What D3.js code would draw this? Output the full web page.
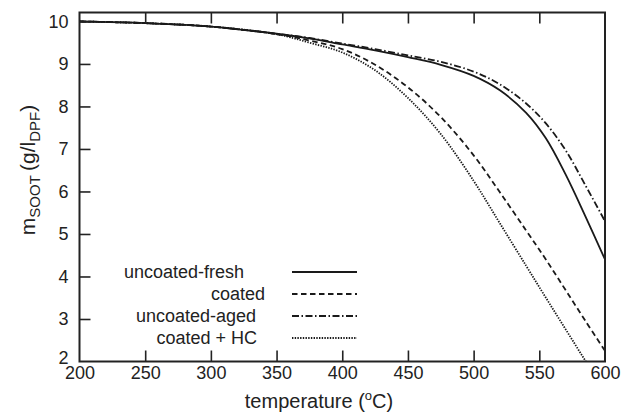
<!DOCTYPE html>
<html>
<head>
<meta charset="utf-8">
<script src="https://cdn.jsdelivr.net/npm/d3@7"></script>
<style>
  html, body { margin: 0; padding: 0; background: #fff; }
  svg text { font-family: "Liberation Sans", Arial, Helvetica, sans-serif; fill: #222; }
</style>
</head>
<body>
<svg id="chart" width="624" height="416"></svg>
<script>
// Soot mass remaining in the filter vs. temperature
const temperature = [200, 250, 300, 350, 375, 400, 425, 450, 475, 500, 520, 540, 555, 570, 585, 600];

const uncoatedFresh = [10.0, 9.96, 9.88, 9.71, 9.60, 9.46, 9.32, 9.16, 8.98, 8.72, 8.38, 7.85, 7.25, 6.40, 5.42, 4.40];
const coated        = [10.0, 9.96, 9.88, 9.70, 9.55, 9.35, 8.98, 8.45, 7.75, 6.85, 5.98, 5.08, 4.40, 3.68, 2.96, 2.25];
const uncoatedAged  = [10.0, 9.96, 9.88, 9.71, 9.61, 9.48, 9.35, 9.20, 9.05, 8.82, 8.52, 8.07, 7.60, 6.97, 6.15, 5.30];
const coatedHC      = [10.0, 9.96, 9.88, 9.70, 9.50, 9.27, 8.85, 8.20, 7.35, 6.25, 5.25, 4.25, 3.50, 2.76, 2.02, 1.30];

const seriesNames = ["uncoated-fresh", "coated", "uncoated-aged", "coated + HC"];
const seriesValues = [uncoatedFresh, coated, uncoatedAged, coatedHC];

const xTicks = [200, 250, 300, 350, 400, 450, 500, 550, 600];
const yTicks = [2, 3, 4, 5, 6, 7, 8, 9, 10];

// line styles per series
const dashStyles = ["none", "5.5,3.5", "7,2.5,1.5,2.5", "1.4,1.3"];
const strokeWidths = [1.8, 1.8, 1.8, 1.8];

const svg = d3.select("#chart");
const plot = { left: 79.5, right: 605, top: 12.5, bottom: 361.5 };

const x = d3.scaleLinear().domain([200, 600]).range([plot.left, plot.right]);
const y = d3.scaleLinear().domain([2, 10.21]).range([plot.bottom, plot.top]);

svg.append("clipPath").attr("id", "plotclip")
  .append("rect")
  .attr("x", plot.left).attr("y", plot.top)
  .attr("width", plot.right - plot.left).attr("height", plot.bottom - plot.top);

// curves
const line = d3.line()
  .x(d => x(d[0]))
  .y(d => y(d[1]))
  .curve(d3.curveCatmullRom.alpha(0.5));

seriesValues.forEach((vals, i) => {
  const pts = temperature.map((t, j) => [t, vals[j]]);
  svg.append("path")
    .attr("clip-path", "url(#plotclip)")
    .attr("d", line(pts))
    .attr("fill", "none")
    .attr("stroke", "#1a1a1a")
    .attr("stroke-width", strokeWidths[i])
    .attr("stroke-dasharray", dashStyles[i]);
});

// axes with inward ticks on all four sides
const tickLen = 11;
const bottomAxis = d3.axisBottom(x).tickValues(xTicks).tickSizeInner(-tickLen).tickSizeOuter(0).tickPadding(5);
const topAxis = d3.axisTop(x).tickValues(xTicks.slice(1, -1)).tickSizeInner(-tickLen).tickSizeOuter(0).tickFormat("");
const leftAxis = d3.axisLeft(y).tickValues(yTicks).tickSizeInner(-tickLen).tickSizeOuter(0).tickPadding(11);
const rightAxis = d3.axisRight(y).tickValues(yTicks.slice(1)).tickSizeInner(-tickLen).tickSizeOuter(0).tickFormat("");

function styleAxis(g) {
  g.select(".domain").remove();
  g.selectAll(".tick line").attr("stroke", "#222").attr("stroke-width", 1.6);
  g.selectAll(".tick text").style("font-size", "18px").attr("fill", "#222");
}

svg.append("g").attr("transform", `translate(0,${plot.bottom})`).call(bottomAxis).call(styleAxis)
  .selectAll(".tick line").filter(d => d === 200 || d === 600).remove();
svg.append("g").attr("transform", `translate(0,${plot.top})`).call(topAxis).call(styleAxis);
const gl = svg.append("g").attr("transform", `translate(${plot.left},0)`).call(leftAxis).call(styleAxis);
gl.selectAll(".tick line").filter(d => d === 2).remove();
// lift the lowest label a little so it clears the "200" below it
gl.selectAll(".tick text").filter(d => d === 2).attr("dy", "0.1em");

// frame
svg.append("rect")
  .attr("x", plot.left).attr("y", plot.top)
  .attr("width", plot.right - plot.left).attr("height", plot.bottom - plot.top)
  .attr("fill", "none").attr("stroke", "#222").attr("stroke-width", 2);

// x axis title
const xt = svg.append("text")
  .attr("x", 319).attr("y", 408)
  .attr("text-anchor", "middle")
  .style("font-size", "20px");
xt.append("tspan").text("temperature (");
xt.append("tspan").attr("dy", -8).style("font-size", "13px").text("o");
xt.append("tspan").attr("dy", 8).text("C)");

// y axis title
const yt = svg.append("text")
  .attr("transform", "translate(35,170) rotate(-90)")
  .attr("text-anchor", "middle")
  .style("font-size", "21px");
yt.append("tspan").text("m");
yt.append("tspan").attr("dy", 5).style("font-size", "15px").text("SOOT");
yt.append("tspan").attr("dy", -5).text("\u2009(g/l");
yt.append("tspan").attr("dy", 5).style("font-size", "15px").text("DPF");
yt.append("tspan").attr("dy", -5).text(")");

// legend
const legendRows = [272, 294, 316, 338];
const legendTextRight = [244, 265, 256, 257];
seriesNames.forEach((name, i) => {
  svg.append("text")
    .attr("x", legendTextRight[i]).attr("y", legendRows[i])
    .attr("dy", "0.35em")
    .attr("text-anchor", "end")
    .style("font-size", "18px")
    .text(name);
  svg.append("line")
    .attr("x1", 292).attr("x2", 357)
    .attr("y1", legendRows[i]).attr("y2", legendRows[i])
    .attr("stroke", "#1a1a1a")
    .attr("stroke-width", strokeWidths[i])
    .attr("stroke-dasharray", dashStyles[i]);
});
</script>
</body>
</html>
